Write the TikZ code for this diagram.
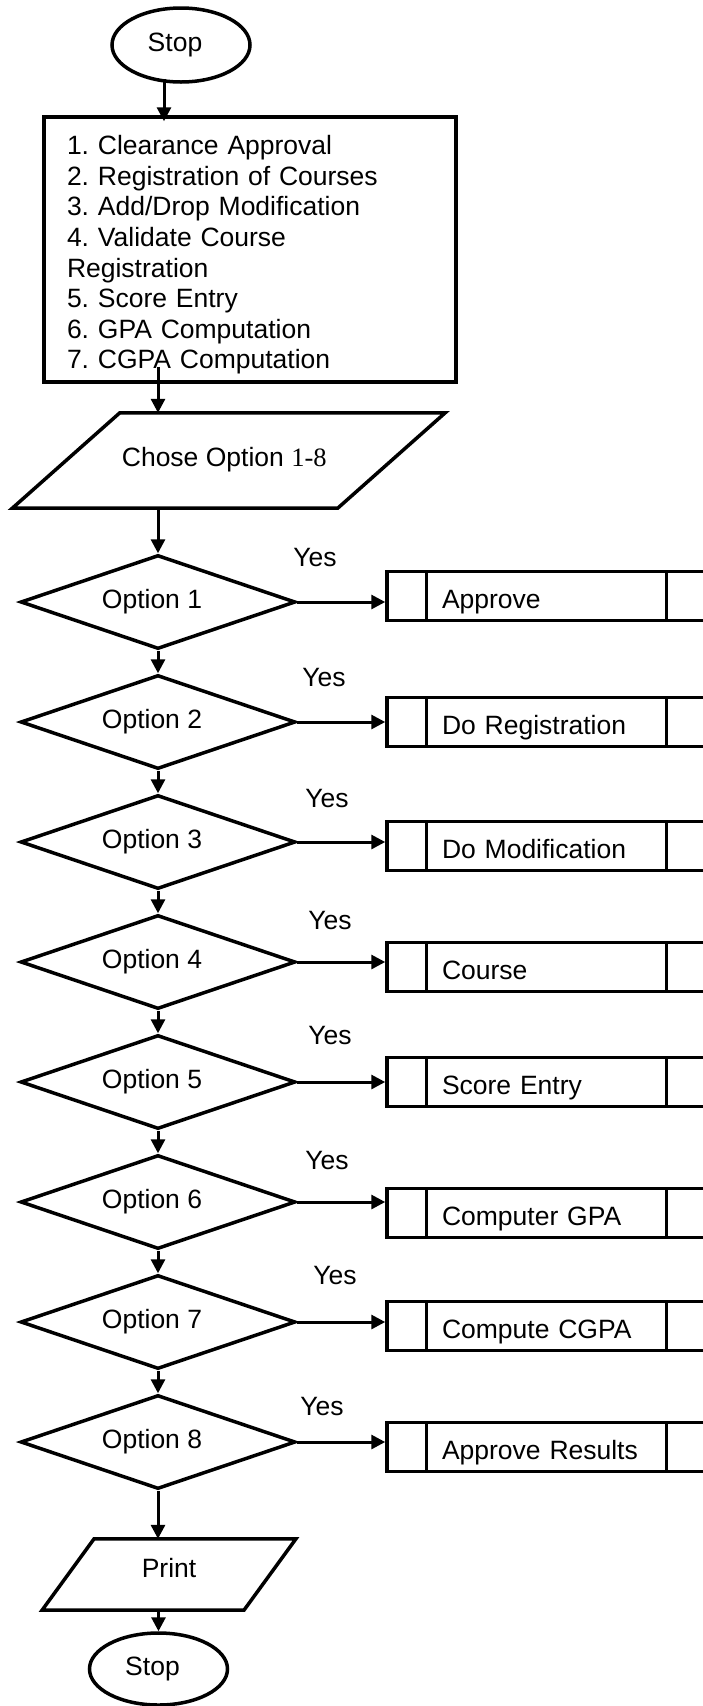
\documentclass[tikz,border=0pt]{standalone}
\usepackage{fontspec}
\setmainfont{Liberation Sans}
\newfontfamily\serifnum{Liberation Serif}
\usetikzlibrary{positioning, shapes.geometric, arrows.meta}

\tikzset{
  flowline/.style={line width=3pt, -{Triangle[length=14pt,width=14pt]}},
  terminal/.style={draw, ellipse, line width=3.5pt, minimum width=138pt, minimum height=74pt, inner sep=0pt,
    execute at end node=\hspace*{12pt}},
  iotext/.style={inner sep=0pt},
  ioline/.style={line width=3.5pt},
  decision/.style={draw, diamond, aspect=2.9, line width=3.5pt, minimum width=275pt, minimum height=94pt, inner sep=0pt,
    execute at end node=\hspace*{12pt}},
  subproc/.style={draw, rectangle, line width=3.5pt, minimum width=318pt, minimum height=49pt,
    inner xsep=55pt, inner ysep=12pt, text width=208pt, text height=25pt, text depth=0pt, align=left,
    path picture={\draw[line width=3pt]
      ([xshift=39pt]path picture bounding box.north west) -- ([xshift=39pt]path picture bounding box.south west)
      ([xshift=-39pt]path picture bounding box.north east) -- ([xshift=-39pt]path picture bounding box.south east);}},
}

\begin{document}
\frenchspacing
\begin{tikzpicture}[x=1pt, y=-1pt, font=\fontsize{26.5}{30.6}\selectfont]
  \useasboundingbox (0,0) rectangle (702,1706);

  % start and menu
  \node[terminal] (start) at (181,45) {Stop};
  \node[draw, line width=3.5pt, text width=366pt, inner xsep=23pt, minimum height=265pt, align=left] (list) at (250,249.5)
    {\rule{0pt}{30pt}1. Clearance Approval\\2. Registration of Courses\\3. Add/Drop Modification\\4. Validate Course\\Registration\\5. Score Entry\\6. GPA Computation\\7. CGPA Computation};
  \node[iotext, minimum width=325pt, minimum height=95pt] (choose) at (228.75,460.5) {Chose Option {\serifnum 1-8}\rule[-7pt]{0pt}{0pt}\hspace*{9pt}};
  \draw[ioline] ([xshift=53.75pt]choose.north west) -- ([xshift=53.75pt]choose.north east)
    -- ([xshift=-53.75pt]choose.south east) -- ([xshift=-53.75pt]choose.south west) -- cycle;

  % decisions
  \node[decision] (opt1) at (158,602) {Option 1};
  \node[decision] (opt2) at (158,722) {Option 2};
  \node[decision] (opt3) at (158,842) {Option 3};
  \node[decision] (opt4) at (158,962) {Option 4};
  \node[decision] (opt5) at (158,1082) {Option 5};
  \node[decision] (opt6) at (158,1202) {Option 6};
  \node[decision] (opt7) at (158,1322) {Option 7};
  \node[decision] (opt8) at (158,1442) {Option 8};

  % sub-processes
  \node[subproc, right=88pt of opt1, yshift=6pt] (proc1) {Approve};
  \node[subproc, right=88pt of opt2] (proc2) {Do Registration};
  \node[subproc, right=88pt of opt3, yshift=-4pt] (proc3) {Do Modification};
  \node[subproc, right=88pt of opt4, yshift=-5pt] (proc4) {Course};
  \node[subproc, right=88pt of opt5] (proc5) {Score Entry};
  \node[subproc, right=88pt of opt6, yshift=-11pt] (proc6) {Computer GPA};
  \node[subproc, right=88pt of opt7, yshift=-4pt] (proc7) {Compute CGPA};
  \node[subproc, right=88pt of opt8, yshift=-5pt] (proc8) {Approve Results};

  \node (yes1) at (315,558) {Yes};
  \node (yes2) at (324,678) {Yes};
  \node (yes3) at (327,799) {Yes};
  \node (yes4) at (330,920) {Yes};
  \node (yes5) at (330,1035) {Yes};
  \node (yes6) at (327,1160) {Yes};
  \node (yes7) at (335,1275) {Yes};
  \node (yes8) at (322,1406) {Yes};

  % end
  \node[iotext, minimum width=201.5pt, minimum height=71pt] (print) at (169,1574.5) {Print\rule[-14pt]{0pt}{0pt}};
  \draw[ioline] ([xshift=26pt]print.north west) -- ([xshift=26pt]print.north east)
    -- ([xshift=-26pt]print.south east) -- ([xshift=-26pt]print.south west) -- cycle;
  \node[terminal, minimum height=72pt] (stop) at (158.5,1669) {Stop};

  % connectors
  \draw[flowline] ([xshift=-17pt,yshift=5pt]start.south) -- ([xshift=-17pt,yshift=-6pt]start.south |- list.north);
  \draw[flowline] ([yshift=17pt]list.south -| opt1) -- (choose.north -| opt1);
  \draw[flowline] (choose.south -| opt1) -- (opt1.north);
  \draw[flowline] (opt1.south) -- (opt2.north);
  \draw[flowline] (opt2.south) -- (opt3.north);
  \draw[flowline] (opt3.south) -- (opt4.north);
  \draw[flowline] (opt4.south) -- (opt5.north);
  \draw[flowline] (opt5.south) -- (opt6.north);
  \draw[flowline] (opt6.south) -- (opt7.north);
  \draw[flowline] (opt7.south) -- (opt8.north);
  \draw[flowline] (opt8.south) -- (opt8.south |- print.north);
  \draw[flowline] (print.south -| stop) -- (stop.north);
  \draw[flowline] (opt1.east) -- (opt1.east -| proc1.west);
  \draw[flowline] (opt2.east) -- (opt2.east -| proc2.west);
  \draw[flowline] (opt3.east) -- (opt3.east -| proc3.west);
  \draw[flowline] (opt4.east) -- (opt4.east -| proc4.west);
  \draw[flowline] (opt5.east) -- (opt5.east -| proc5.west);
  \draw[flowline] (opt6.east) -- (opt6.east -| proc6.west);
  \draw[flowline] (opt7.east) -- (opt7.east -| proc7.west);
  \draw[flowline] (opt8.east) -- (opt8.east -| proc8.west);
\end{tikzpicture}
\end{document}
